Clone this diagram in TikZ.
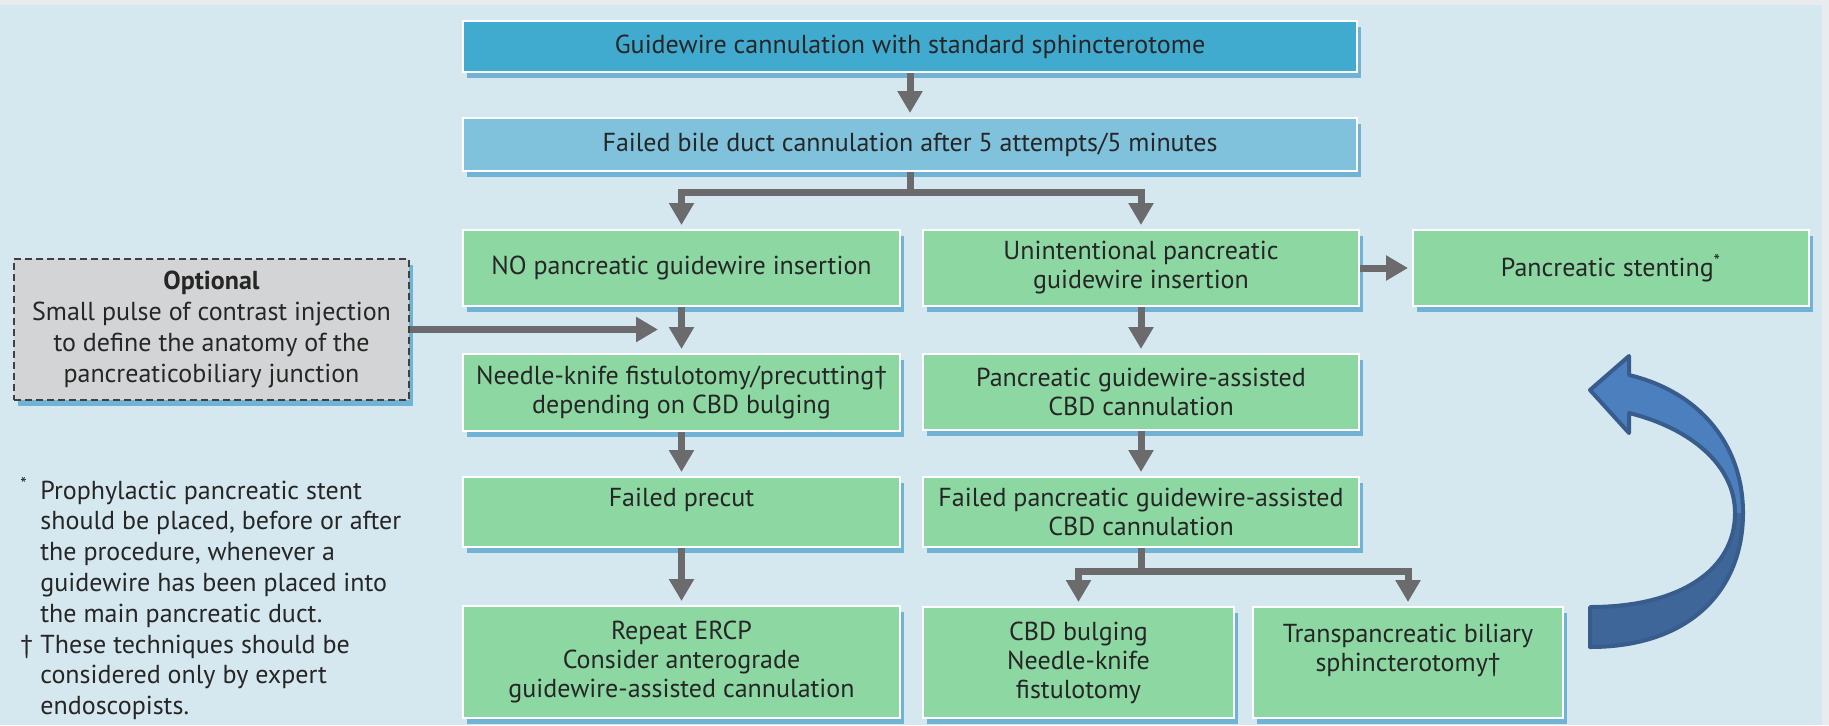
\documentclass[tikz,border=0pt]{standalone}
\usepackage{fontspec}
\setmainfont{PT Sans}
\usetikzlibrary{positioning,arrows.meta,shadows}

\definecolor{bgblue}{HTML}{D6E8EF}
\definecolor{edgegrey}{HTML}{E8ECEE}
\definecolor{startblue}{HTML}{41AACF}
\definecolor{failblue}{HTML}{80C1DC}
\definecolor{stepgreen}{HTML}{8DD7A2}
\definecolor{optgrey}{HTML}{D3D4D5}
\definecolor{mapgrey}{HTML}{6B6B6D}
\definecolor{shadeblue}{HTML}{4EA2CB}
\definecolor{textdark}{HTML}{262626}
\definecolor{loopblue}{HTML}{4C7FBD}
\definecolor{loopdark}{HTML}{3E6699}
\definecolor{loopedge}{HTML}{385C8C}

\newcommand{\boxfont}{\fontsize{13}{14.5}\selectfont}
\newcommand{\notefont}{\fontsize{13}{15.4}\selectfont}

\begin{document}
\begin{tikzpicture}[
  x=0.5pt, y=-0.5pt,
  flowbox/.style={draw=white, line width=1pt, align=center, inner sep=2pt, text=textdark, font=\boxfont,
    drop shadow={shadow xshift=2pt, shadow yshift=-3pt, fill=shadeblue, opacity=0.75}},
  greenbox/.style={flowbox, fill=stepgreen},
  leftcol/.style={greenbox, minimum width=218.5pt},
  rightcol/.style={greenbox, minimum width=218pt},
  flowmap/.style={-{Triangle[length=11pt,width=12pt]}, draw=mapgrey, line width=3.5pt, shorten >=2pt}
]
  \useasboundingbox (0,0) rectangle (1829,725);
  \fill[edgegrey] (0,0) rectangle (1829,725);
  \fill[bgblue] (0,5) rectangle (1822,725);

  % main column
  \node[flowbox, fill=startblue, minimum width=447pt, minimum height=25.5pt] (start) at (910,46.5) {Guidewire cannulation with standard sphincterotome};
  \node[flowbox, fill=failblue, minimum width=447pt, minimum height=26.5pt] (fail) at (910,144.5) {Failed bile duct cannulation after 5 attempts/5 minutes};
  \node[leftcol, minimum height=38pt] (nowire) at (681.5,268) {NO pancreatic guidewire insertion};
  \node[rightcol, minimum height=38pt] (pwire) at (1141,268) {Unintentional pancreatic\\guidewire insertion};
  \node[greenbox, minimum width=198pt, minimum height=38pt] (stent) at (1611,268) {Pancreatic stenting\textsuperscript{*}};
  \node[leftcol, minimum height=38.5pt] (needle) at (681.5,392.5) {Needle-knife fistulotomy/precutting\textdagger\\depending on CBD bulging};
  \node[rightcol, minimum height=38pt] (assist) at (1141,392) {Pancreatic guidewire-assisted\\CBD cannulation};
  \node[leftcol, minimum height=35pt] (precut) at (681.5,512) {Failed precut\\\mbox{}};
  \node[rightcol, minimum height=35pt] (assistfail) at (1141,512) {Failed pancreatic guidewire-assisted\\CBD cannulation};
  \node[leftcol, minimum height=56pt] (repeat) at (681.5,662) {Repeat ERCP\\Consider anterograde\\guidewire-assisted cannulation};
  \node[greenbox, minimum width=155.5pt, minimum height=55.5pt] (bulge) at (1078.5,662.5) {CBD bulging\\Needle-knife\\fistulotomy};
  \node[greenbox, minimum width=155pt, minimum height=55.5pt] (transbil) at (1408,662.5) {Transpancreatic biliary\\sphincterotomy\textdagger\\\mbox{}};

  % side notes
  \node[flowbox, fill=optgrey, draw=black!75, line width=0.75pt, dash pattern=on 3.5pt off 2pt,
    minimum width=197.5pt, minimum height=70.5pt, font=\notefont] (optional) at (211.5,329.5)
    {\textbf{Optional}\\Small pulse of contrast injection\\to define the anatomy of the\\pancreaticobiliary junction};
  \node[anchor=north west, inner sep=0pt, text=textdark, font=\notefont] (notes) at (20,477) {%
    \begin{tabular}{@{}l@{}l@{}}
      \makebox[10pt][l]{\textsuperscript{*}} & Prophylactic pancreatic stent\\
      & should be placed, before or after\\
      & the procedure, whenever a\\
      & guidewire has been placed into\\
      & the main pancreatic duct.\\
      \makebox[10pt][l]{\textdagger} & These techniques should be\\
      & considered only by expert\\
      & endoscopists.
    \end{tabular}};

  % connectors
  \draw[flowmap] (start) -- (fail);
  \draw[flowmap] (fail.south) -- ++(0,20) -| (nowire.north);
  \draw[flowmap] (fail.south) -- ++(0,20) -| (pwire.north);
  \draw[flowmap] (pwire) -- (stent);
  \draw[flowmap] (nowire) -- (needle);
  \coordinate (optend) at (662,329.5);
  \draw[flowmap] (optional.east) -- (optend);
  \draw[flowmap] (needle) -- (precut);
  \draw[flowmap] (precut) -- (repeat);
  \draw[flowmap] (pwire) -- (assist);
  \draw[flowmap] (assist) -- (assistfail);
  \draw[flowmap] (assistfail.south) -- ++(0,23) -| (bulge.north);
  \draw[flowmap] (assistfail.south) -- ++(0,23) -| (transbil.north);

  % curved return arrow
  \fill[loopblue] (1743,513) .. controls (1743,445) and (1700,392) .. (1629,375) -- (1629,356) -- (1590,390)
    -- (1629,433) -- (1629,413) .. controls (1690,428) and (1735,465) .. (1735,513) -- cycle;
  \fill[loopdark] (1590,607) -- (1590,647) .. controls (1690,647) and (1743,590) .. (1743,513)
    -- (1735,513) .. controls (1735,570) and (1680,607) .. cycle;
  \draw[loopedge, line width=2pt, line join=round] (1590,607) -- (1590,647)
    .. controls (1690,647) and (1743,590) .. (1743,513)
    .. controls (1743,445) and (1700,392) .. (1629,375) -- (1629,356) -- (1590,390)
    -- (1629,433) -- (1629,413) .. controls (1690,428) and (1735,465) .. (1735,513)
    .. controls (1735,570) and (1680,607) .. cycle;
\end{tikzpicture}
\end{document}
